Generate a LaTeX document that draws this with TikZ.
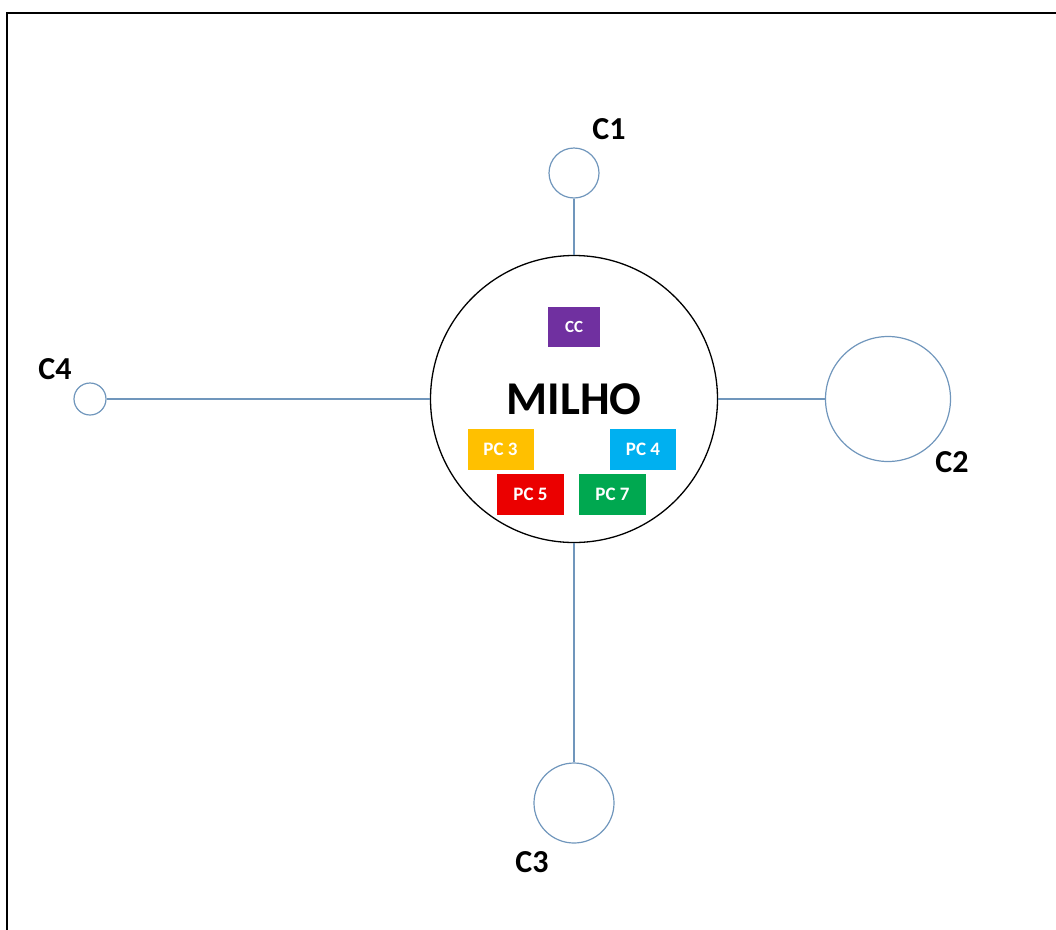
\documentclass[tikz,border=0pt]{standalone}
\usepackage{fontspec}
\setmainfont{Carlito}
\usetikzlibrary{positioning}
\definecolor{edgeblue}{RGB}{112,150,188}
\definecolor{ccpurple}{RGB}{112,48,160}
\definecolor{pcyellow}{RGB}{255,192,0}
\definecolor{pcblue}{RGB}{0,176,240}
\definecolor{pcred}{RGB}{235,0,0}
\definecolor{pcgreen}{RGB}{0,168,80}

\begin{document}
\begin{tikzpicture}[x=1pt,y=-1pt]

    \useasboundingbox (0,0) rectangle (1056,929);
    % frame (runs off the page at right and bottom)
    \draw[line width=2.5pt] (7,1000) -- (7,13) -- (1100,13);

    \tikzstyle{hub}=[circle,draw=black,line width=1.3pt,minimum size=287pt,inner sep=0pt,font=\bfseries\fontsize{47}{50}\selectfont]
    \tikzstyle{city}=[circle,draw=edgeblue,line width=1.2pt,inner sep=0pt]
    \tikzstyle{tag}=[font=\bfseries\fontsize{32}{36}\selectfont]
    \tikzstyle{pc}=[minimum width=66pt,minimum height=41pt,inner sep=0pt,text=white,font=\bfseries\fontsize{19}{22}\selectfont]
    \tikzstyle{link}=[draw=edgeblue,line width=1.2pt]

    \begin{scope}
        \node [hub] (milho) at (574,399) {MILHO};
        \node [city,minimum size=50pt] (c1) at (574,173) {};
        \node [city,minimum size=125pt] (c2) at (888,399) {};
        \node [city,minimum size=80pt] (c3) at (574,803) {};
        \node [city,minimum size=32pt] (c4) at (90,399) {};

        \node [tag] (t1) at (609,129) {C1};
        \node [tag] (t2) at (952,462) {C2};
        \node [tag] (t3) at (532,862) {C3};
        \node [tag] (t4) at (55,369) {C4};

        \draw [link] (milho) -- (c1);
        \draw [link] (milho) -- (c2);
        \draw [link] (milho) -- (c3);
        \draw [link] (milho) -- (c4);
    \end{scope}

    % crops inside the hub
    \node [pc,fill=ccpurple,minimum width=52pt,minimum height=40pt,font=\bfseries\fontsize{17}{20}\selectfont] (cc) at (574,327) {CC};
    \node [pc,fill=pcyellow] (pc3) at (500.5,449.5) {PC 3};
    \node [pc,fill=pcblue] (pc4) at (643,449.5) {PC 4};
    \node [pc,fill=pcred,minimum width=67pt] (pc5) at (530.5,494.5) {PC 5};
    \node [pc,fill=pcgreen,minimum width=67pt] (pc7) at (612.5,494.5) {PC 7};

\end{tikzpicture}
\end{document}
